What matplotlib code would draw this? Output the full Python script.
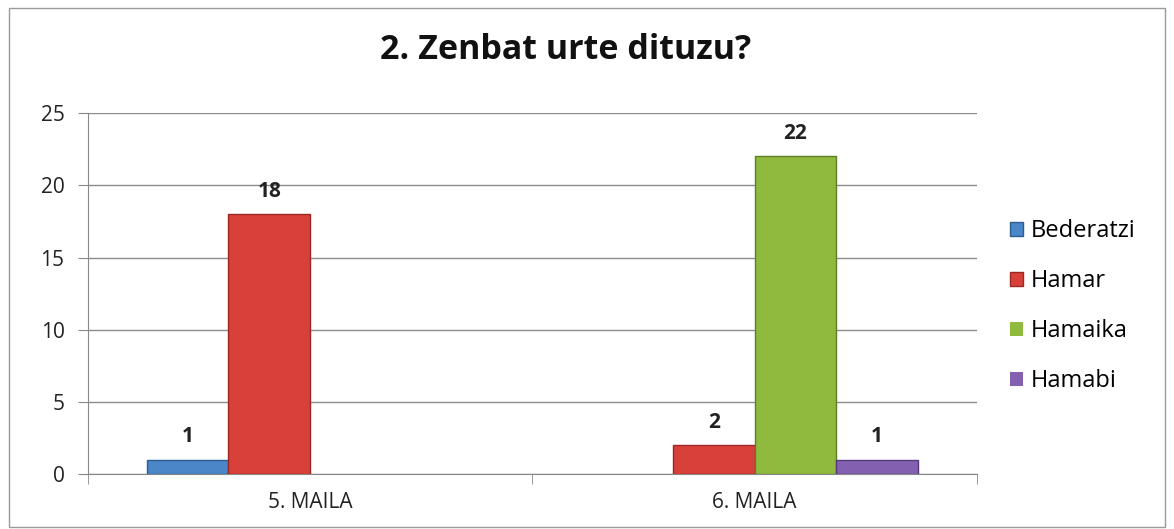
import numpy as np
import matplotlib.pyplot as plt
from matplotlib.patches import Rectangle

categories = ['5. MAILA', '6. MAILA']
series = ['Bederatzi', 'Hamar', 'Hamaika', 'Hamabi']
bederatzi = [1, 0]
hamar = [18, 2]
hamaika = [0, 22]
hamabi = [0, 1]
values = [bederatzi, hamar, hamaika, hamabi]
colors = ['#4a86c8', '#d8403a', '#8fba3e', '#8461b0']
edges = ['#2c5c92', '#9c2824', '#5e7f23', '#56397c']

plt.rcParams['font.family'] = ['Open Sans', 'DejaVu Sans']

fig = plt.figure(figsize=(11.74, 5.29), dpi=100)
ax = fig.add_axes([0.075, 0.104, 0.757, 0.682])

x = np.arange(len(categories))
w = 0.184
for i, (name, vals) in enumerate(zip(series, values)):
    pos = x + (i - 1.5) * w
    bars = ax.bar(pos, vals, w, color=colors[i], edgecolor=edges[i], linewidth=1, label=name, zorder=3)
    for b, v in zip(bars, vals):
        if v > 0:
            ax.annotate(str(v), (b.get_x() + b.get_width() / 2, v), xytext=(0, 9),
                        textcoords='offset points', ha='center', va='bottom',
                        fontsize=15, fontweight='bold', color='#222222')
        else:
            b.set_linewidth(0)

ax.set_xlim(-0.5, 1.5)
ax.set_ylim(0, 25)
ax.set_yticks(range(0, 26, 5))
ax.set_xticks(x)
ax.set_xticklabels(categories)
ax.set_xticks([-0.5, 0.5, 1.5], minor=True)
ax.tick_params(axis='x', which='major', length=0, pad=13, labelsize=15, labelcolor='#222222')
ax.tick_params(axis='x', which='minor', length=7, color='#888888')
ax.tick_params(axis='y', length=7, color='#888888', labelsize=15, labelcolor='#222222', pad=10)
ax.grid(axis='y', color='#8c8c8c', linewidth=1, zorder=0)
for s in ['top', 'right']:
    ax.spines[s].set_visible(False)
for s in ['left', 'bottom']:
    ax.spines[s].set_color('#888888')

fig.text(0.482, 0.905, '2. Zenbat urte dituzu?', ha='center', va='center',
         fontsize=24.5, fontweight='bold', color='#111111')

ax.legend(loc='center left', bbox_to_anchor=(1.013, 0.465), frameon=False, fontsize=17,
          handlelength=0.55, handleheight=0.55, handletextpad=0.35, labelspacing=1.1)

fig.patches.append(Rectangle((0.008, 0.004), 0.984, 0.98, transform=fig.transFigure,
                             fill=False, edgecolor='#9a9a9a', linewidth=1))

fig.savefig('out.png', dpi=100)
